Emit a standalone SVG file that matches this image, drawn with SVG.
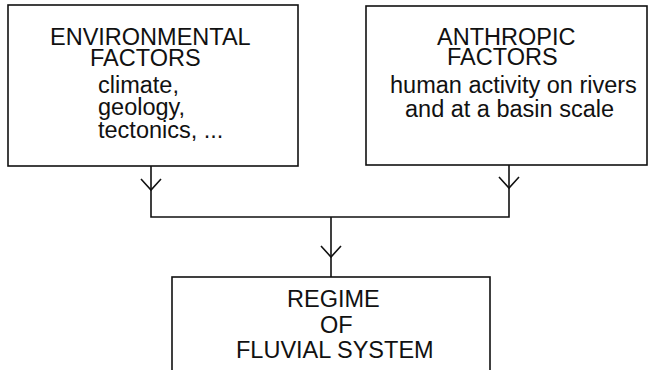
<svg xmlns="http://www.w3.org/2000/svg" width="649" height="370" viewBox="0 0 649 370">
<style>
.box{fill:none;stroke:#111;stroke-width:1.6}
.ln{fill:none;stroke:#111;stroke-width:1.6}
text{font-family:"Liberation Sans",Arial,sans-serif;font-size:23.5px;fill:#111}
</style>
<rect width="649" height="370" fill="#fff"/>
<g id="environmental">
<rect class="box" x="8" y="5" width="290" height="161"/>
<text x="50" y="45">ENVIRONMENTAL</text>
<text x="90" y="66">FACTORS</text>
<text x="98" y="93">climate,</text>
<text x="98" y="115">geology,</text>
<text x="98" y="138">tectonics, ...</text>
</g>
<g id="anthropic">
<rect class="box" x="366" y="6" width="281" height="159"/>
<text x="437" y="45">ANTHROPIC</text>
<text x="447" y="65">FACTORS</text>
<text x="390" y="93">human activity on rivers</text>
<text x="405" y="117">and at a basin scale</text>
</g>
<g id="regime">
<rect class="box" x="172" y="277" width="318" height="110"/>
<text x="287" y="307">REGIME</text>
<text x="320" y="333">OF</text>
<text x="236" y="358">FLUVIAL SYSTEM</text>
</g>
<g id="connectors">
<path class="ln" d="M151 166V217H509V165M331 217V277"/>
<path class="ln" d="M141 179L151 190L161 179"/>
<path class="ln" d="M499 177L509 188L519 177"/>
<path class="ln" d="M321 246L331 257L341 246"/>
</g>
</svg>
